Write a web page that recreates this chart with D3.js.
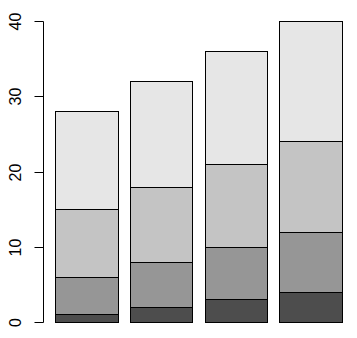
<!DOCTYPE html>
<html>
<head>
<meta charset="utf-8">
<script src="https://cdn.jsdelivr.net/npm/d3@7"></script>
<style>
  html, body { margin: 0; padding: 0; background: #fff; }
  svg { display: block; }
  text { font-family: Arial, "Liberation Sans", sans-serif; }
</style>
</head>
<body>
<script>
// Stacked bar data: four groups, four layers each (bottom to top)
const categories = ["A", "B", "C", "D"];
const layer1 = [1, 2, 3, 4];
const layer2 = [5, 6, 7, 8];
const layer3 = [9, 10, 11, 12];
const layer4 = [13, 14, 15, 16];
const tickValues = [0, 10, 20, 30, 40];
const layerColors = ["#4D4D4D", "#969696", "#C4C4C4", "#E6E6E6"];

const width = 357, height = 338;
const svg = d3.select("body").append("svg")
  .attr("width", width).attr("height", height);

const layers = [layer1, layer2, layer3, layer4];
const rows = categories.map((c, i) => {
  const r = { cat: c };
  layers.forEach((l, k) => { r["s" + k] = l[i]; });
  return r;
});
const keys = layers.map((_, k) => "s" + k);
const stacked = d3.stack().keys(keys)(rows);

const y = d3.scaleLinear().domain([0, 40]).range([322, 21]);
// Gap between bars is 0.2 of a bar width, same at both ends
const gap = 0.2 / 1.2;
const x = d3.scaleBand().domain(categories)
  .range([43, 354]).paddingInner(gap).paddingOuter(gap);

const snap = v => Math.round(v) + 0.5;

svg.append("g").selectAll("g")
  .data(stacked)
  .join("g")
  .attr("fill", (d, i) => layerColors[i])
  .selectAll("rect")
  .data(d => d)
  .join("rect")
  .attr("x", d => snap(x(d.data.cat)))
  .attr("width", d => snap(x(d.data.cat) + x.bandwidth()) - snap(x(d.data.cat)))
  .attr("y", d => snap(y(d[1])))
  .attr("height", d => snap(y(d[0])) - snap(y(d[1])))
  .attr("stroke", "#000")
  .attr("stroke-width", 1);

// Left axis with rotated tick labels
const axis = d3.axisLeft(y).tickValues(tickValues).tickSize(9).tickPadding(0);
const gAxis = svg.append("g").attr("transform", "translate(43.5,0)").call(axis);
gAxis.selectAll(".tick").attr("transform", d => `translate(0,${snap(y(d))})`);
gAxis.select(".domain").attr("stroke", "#000")
  .attr("d", `M0,${snap(y(0))}V${snap(y(40))}`);
gAxis.selectAll(".tick line").attr("stroke", "#000");
gAxis.selectAll(".tick text")
  .attr("fill", "#000")
  .attr("font-size", 16)
  .attr("x", null).attr("y", null).attr("dy", null)
  .attr("text-anchor", "middle")
  .attr("transform", "translate(-22.5,0) rotate(-90)");
</script>
</body>
</html>
